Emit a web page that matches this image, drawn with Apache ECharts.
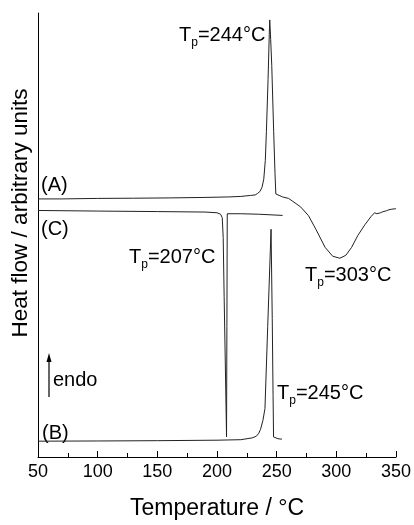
<!DOCTYPE html>
<html>
<head>
<meta charset="utf-8">
<script src="https://cdn.jsdelivr.net/npm/echarts@6/dist/echarts.min.js"></script>
<style>
  html, body { margin: 0; padding: 0; background: #fff; }
  #main { width: 414px; height: 525px; }
</style>
</head>
<body>
<div id="main"></div>
<script>
// DSC curves, heat flow in arbitrary units
var tempA = [50, 70, 100, 130, 160, 190, 210, 220, 228, 232, 234, 236, 237.8, 239.2, 240.5, 241.4, 242.8, 243.8, 244.2, 245, 245.9, 247.5, 248.6, 249.3, 250.5, 255, 260, 263, 270, 276.7, 283, 290.6, 297, 303, 308, 312.8, 318, 324, 329, 332, 334, 335.5, 337, 339, 342, 344, 346, 347.5, 349, 350];
var heatA = [261, 261, 261.5, 261.7, 262, 262.5, 263, 263.5, 264.5, 265, 266.5, 268.5, 273, 281, 300, 329, 382, 427, 442, 422, 396, 329, 287, 266, 264, 263, 261.5, 259, 253, 244, 230, 212, 203, 201, 204, 212, 224, 235, 243, 247, 246, 244, 247, 248, 249, 250, 250.5, 249, 251, 251];

var tempC = [50, 100, 150, 190, 200, 203, 204.4, 205.2, 206, 207, 208, 208.3, 208.6, 220, 235, 255];
var heatC = [249.3, 248.7, 248.2, 247.7, 247, 245.5, 242, 222, 162, 92, 20.3, 132, 246, 246, 245.5, 244.3];

var tempB = [50, 100, 150, 200, 220, 229.4, 233, 235, 236.5, 238.5, 240.2, 242.5, 245.3, 246.3, 247, 247.4, 248.5, 251, 254.4];
var heatB = [16, 16.2, 16.5, 17, 17.5, 19.3, 21, 24, 28, 37, 49, 132, 230.3, 140, 62, 20.3, 19, 18.5, 18];

var xTicks = [50, 100, 150, 200, 250, 300, 350];

function pairs(xs, ys) {
  return xs.map(function (x, i) { return [x, ys[i]]; });
}

var FONT = '"Liberation Sans", Arial, sans-serif';
var lineStyle = { color: '#222', width: 1 };

function tpLabel(x, y, value) {
  return {
    type: 'text',
    left: x,
    top: y,
    style: {
      text: '{t|T}{s|p}{t|=' + value + '°C}',
      fill: '#000',
      rich: {
        t: { fontSize: 20, fontFamily: FONT, fill: '#000' },
        s: { fontSize: 12, fontFamily: FONT, fill: '#000', padding: [15, 0, 0, 0] }
      }
    }
  };
}

function plainLabel(x, y, text) {
  return {
    type: 'text',
    left: x,
    top: y,
    style: { text: text, fontSize: 20, fontFamily: FONT, fill: '#000' }
  };
}

var chart = echarts.init(document.getElementById('main'), null, { renderer: 'canvas' });

var option = {
  animation: false,
  backgroundColor: '#fff',
  grid: { left: 38, right: 16, top: 13, bottom: 63 },
  xAxis: {
    type: 'value',
    min: 50,
    max: 350,
    interval: 50,
    name: 'Temperature / °C',
    nameLocation: 'middle',
    nameGap: 40,
    nameTextStyle: { fontSize: 23, fontFamily: FONT, color: '#000' },
    axisLine: { lineStyle: { color: '#000', width: 1 } },
    axisTick: { inside: true, length: 6, lineStyle: { color: '#000' } },
    minorTick: { show: true, splitNumber: 2, length: 4, lineStyle: { color: '#000' } },
    axisLabel: {
      fontSize: 18, fontFamily: FONT, color: '#000', margin: 6,
      formatter: function (v) { return xTicks.indexOf(v) >= 0 ? String(v) : ''; }
    },
    splitLine: { show: false }
  },
  yAxis: {
    type: 'value',
    min: 0,
    max: 449,
    axisLine: { show: true, lineStyle: { color: '#000', width: 1 } },
    axisTick: { show: false },
    axisLabel: { show: false },
    splitLine: { show: false }
  },
  series: [
    { name: 'A', type: 'line', data: pairs(tempA, heatA), showSymbol: false, lineStyle: lineStyle, z: 3 },
    { name: 'C', type: 'line', data: pairs(tempC, heatC), showSymbol: false, lineStyle: lineStyle, z: 3 },
    { name: 'B', type: 'line', data: pairs(tempB, heatB), showSymbol: false, lineStyle: lineStyle, z: 3 }
  ],
  graphic: [
    {
      type: 'text',
      x: 21,
      y: 213,
      rotation: Math.PI / 2,
      style: {
        text: 'Heat flow / arbitrary units',
        fontSize: 22.5, fontFamily: FONT, fill: '#000',
        align: 'center', verticalAlign: 'middle'
      }
    },
    tpLabel(179, 25, 244),
    tpLabel(129, 247, 207),
    tpLabel(305, 265, 303),
    tpLabel(277, 383, 245),
    plainLabel(41, 175, '(A)'),
    plainLabel(41, 219, '(C)'),
    plainLabel(42, 423, '(B)'),
    plainLabel(53, 370, 'endo'),
    {
      type: 'line',
      shape: { x1: 49, y1: 397, x2: 49, y2: 360 },
      style: { stroke: '#000', lineWidth: 1.2 }
    },
    {
      type: 'polygon',
      shape: { points: [[49, 353], [46.5, 362], [51.5, 362]] },
      style: { fill: '#000' }
    }
  ]
};

chart.setOption(option);
</script>
</body>
</html>
